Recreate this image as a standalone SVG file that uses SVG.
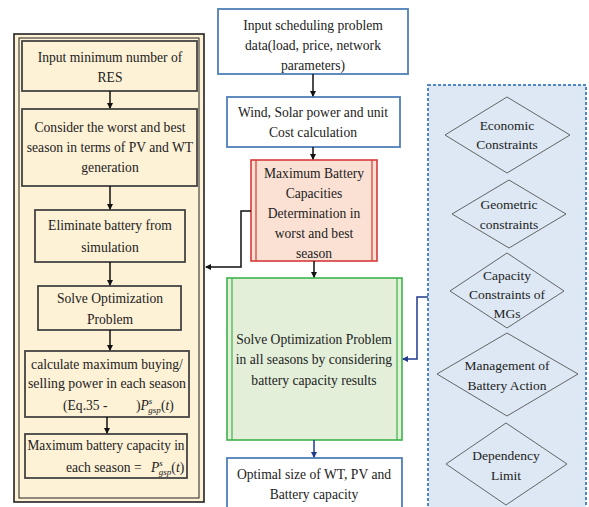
<svg xmlns="http://www.w3.org/2000/svg" width="589" height="507" viewBox="0 0 589 507">
<style>
text{font-family:"Liberation Serif","Times New Roman",serif;font-size:13.6px;fill:#222;text-anchor:middle}
.d{font-size:13.5px}
.lb{fill:#fdf1d6;stroke:#222;stroke-width:1.6}
.bx{fill:none;stroke:#444;stroke-width:1.8}
.bl{fill:#fff;stroke:#4f7fb8;stroke-width:1.8}
.dm{fill:none;stroke:#555;stroke-width:0.9}
.c{fill:none;stroke:#111;stroke-width:1.5}
.cb{fill:none;stroke:#1f3a8a;stroke-width:1.5}
.i{font-style:italic}
</style>
<defs>
<marker id="ah" markerWidth="6" markerHeight="6" refX="5" refY="3" orient="auto" markerUnits="userSpaceOnUse"><path d="M0,0 L6,3 L0,6 Z" fill="#111"/></marker>
<marker id="ahb" markerWidth="6" markerHeight="6" refX="5" refY="3" orient="auto" markerUnits="userSpaceOnUse"><path d="M0,0 L6,3 L0,6 Z" fill="#1f3a8a"/></marker>
</defs>

<g id="left-panel">
<rect x="14" y="34" width="190" height="468" class="lb" stroke-width="2"/>
<rect x="19" y="38" width="180" height="460" fill="none" stroke="#222" stroke-width="1"/>
</g>

<g id="n1">
<rect x="22" y="41" width="175" height="50" class="bx"/>
<text x="110" y="62">Input minimum number of</text>
<text x="110" y="82">RES</text>
</g>
<g id="n2">
<rect x="22" y="109" width="175" height="77" class="bx"/>
<text x="110" y="132">Consider the worst and best</text>
<text x="110" y="152">season in terms of PV and WT</text>
<text x="110" y="172">generation</text>
</g>
<g id="n3">
<rect x="35" y="210" width="150" height="52" class="bx"/>
<text x="110" y="230">Eliminate battery from</text>
<text x="110" y="252">simulation</text>
</g>
<g id="n4">
<rect x="38" y="286" width="143" height="44" class="bx"/>
<text x="110" y="303">Solve Optimization</text>
<text x="110" y="324">Problem</text>
</g>
<g id="n5">
<rect x="25" y="351" width="164" height="66" class="bx"/>
<text x="107" y="369">calculate maximum buying/</text>
<text x="107" y="388" textLength="158" lengthAdjust="spacingAndGlyphs">selling power in each season</text>
<text x="63" y="410" style="text-anchor:start">(Eq.35 -</text>
<text x="136" y="410" style="text-anchor:start">)<tspan class="i">P</tspan><tspan class="i" font-size="9" dy="-6">s</tspan><tspan class="i" font-size="9" dx="-4" dy="9">gsp</tspan><tspan dy="-3">(<tspan class="i">t</tspan>)</tspan></text>
</g>
<g id="n6">
<rect x="25" y="434" width="162" height="44" class="bx"/>
<text x="106" y="450" textLength="157" lengthAdjust="spacingAndGlyphs">Maximum battery capacity in</text>
<text x="66" y="472" style="text-anchor:start">each season =</text>
<text x="151" y="472" style="text-anchor:start"><tspan class="i">P</tspan><tspan class="i" font-size="9" dy="-6">s</tspan><tspan class="i" font-size="9" dx="-4" dy="9">gsp</tspan><tspan dy="-3">(<tspan class="i">t</tspan>)</tspan></text>
</g>

<g id="nA">
<rect x="218" y="9" width="190" height="65" class="bl"/>
<text x="313" y="30">Input scheduling problem</text>
<text x="313" y="50">data(load, price, network</text>
<text x="313" y="70">parameters)</text>
</g>
<g id="nB">
<rect x="227" y="97" width="173" height="50" class="bl"/>
<text x="313" y="117">Wind, Solar power and unit</text>
<text x="313" y="137">Cost calculation</text>
</g>
<g id="nC">
<rect x="251" y="160" width="126" height="101" fill="#fbe1d3" stroke="#d63a3a" stroke-width="1.6"/>
<line x1="256" y1="160" x2="256" y2="261" stroke="#d63a3a" stroke-width="1.2"/>
<line x1="372" y1="160" x2="372" y2="261" stroke="#d63a3a" stroke-width="1.2"/>
<text x="314" y="178">Maximum Battery</text>
<text x="314" y="198">Capacities</text>
<text x="314" y="218">Determination in</text>
<text x="314" y="238">worst and best</text>
<text x="314" y="258">season</text>
</g>
<g id="nD">
<rect x="227" y="278" width="175" height="162" fill="#e3efd9" stroke="#3cb34a" stroke-width="1.6"/>
<line x1="232" y1="278" x2="232" y2="440" stroke="#3cb34a" stroke-width="1.2"/>
<line x1="397" y1="278" x2="397" y2="440" stroke="#3cb34a" stroke-width="1.2"/>
<text x="314" y="344">Solve Optimization Problem</text>
<text x="314" y="364">in all seasons by considering</text>
<text x="314" y="385">battery capacity results</text>
</g>
<g id="nE">
<rect x="227" y="458" width="175" height="55" class="bl"/>
<text x="314" y="479">Optimal size of WT, PV and</text>
<text x="314" y="499">Battery capacity</text>
</g>

<g id="right-panel">
<rect x="428" y="85" width="158" height="430" fill="#dde8f4" stroke="#4f86c6" stroke-width="2" stroke-dasharray="3,2"/>
</g>
<g id="r1">
<polygon points="507,97 570,135 507,173 445,135" class="dm"/>
<text class="d" x="507" y="130">Economic</text>
<text class="d" x="507" y="149">Constraints</text>
</g>
<g id="r2">
<polygon points="509,180 566,214 509,248 452,214" class="dm"/>
<text class="d" x="509" y="209">Geometric</text>
<text class="d" x="509" y="229">constraints</text>
</g>
<g id="r3">
<polygon points="507,253 564,291 507,328 450,291" class="dm"/>
<text class="d" x="507" y="280">Capacity</text>
<text class="d" x="507" y="299">Constraints of</text>
<text class="d" x="507" y="318">MGs</text>
</g>
<g id="r4">
<polygon points="507,333 578,374 507,416 437,374" class="dm"/>
<text class="d" x="507" y="370">Management of</text>
<text class="d" x="507" y="390">Battery Action</text>
</g>
<g id="r5">
<polygon points="506,423 567,464 506,505 446,464" class="dm"/>
<text class="d" x="506" y="460">Dependency</text>
<text class="d" x="506" y="480">Limit</text>
</g>

<g id="connectors">
<line x1="110" y1="91" x2="110" y2="108" class="c" marker-end="url(#ah)"/>
<line x1="110" y1="186" x2="110" y2="209" class="c" marker-end="url(#ah)"/>
<line x1="110" y1="262" x2="110" y2="285" class="c" marker-end="url(#ah)"/>
<line x1="110" y1="330" x2="110" y2="350" class="c" marker-end="url(#ah)"/>
<line x1="107" y1="417" x2="107" y2="433" class="c" marker-end="url(#ah)"/>
<line x1="313" y1="74" x2="313" y2="96" class="c" marker-end="url(#ah)"/>
<line x1="313" y1="147" x2="313" y2="159" class="c" marker-end="url(#ah)"/>
<line x1="314" y1="261" x2="314" y2="277" class="c" marker-end="url(#ah)"/>
<polyline points="251,211 241,211 241,267 206,267" class="c" marker-end="url(#ah)"/>
<polyline points="428,297 417,297 417,359 403,359" class="cb" marker-end="url(#ahb)"/>
<line x1="314" y1="440" x2="314" y2="457" class="cb" marker-end="url(#ahb)"/>
</g>
</svg>
